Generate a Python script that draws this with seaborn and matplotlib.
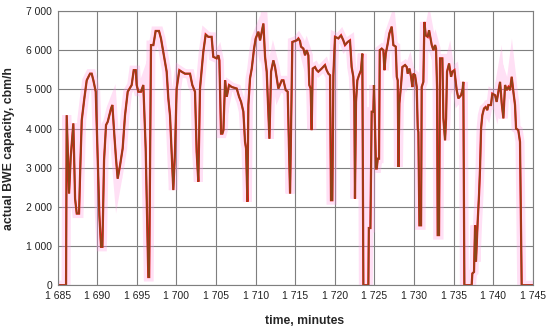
import matplotlib
matplotlib.use("Agg")
import matplotlib.pyplot as plt
import matplotlib.ticker as mticker
import seaborn as sns
import numpy as np
import pandas as pd

# time (minutes) and actual BWE capacity (cbm/h)
minutes = [
    1685.0, 1686.05, 1686.13, 1686.43, 1686.64, 1686.97, 1687.19, 1687.40, 1687.69, 1687.82,
    1688.03, 1688.36, 1688.66, 1689.08, 1689.29, 1689.50, 1689.80, 1690.26, 1690.47, 1690.64,
    1690.85, 1691.10, 1691.31, 1691.73, 1691.90, 1692.15, 1692.36, 1692.57, 1692.87, 1693.20,
    1693.50, 1693.84, 1694.34, 1694.60, 1694.85,
    1694.97, 1695.18, 1695.52, 1695.81, 1696.11, 1696.44, 1696.55, 1696.78, 1697.08, 1697.37,
    1697.79, 1698.04, 1698.47, 1698.76, 1698.97, 1699.18, 1699.39, 1699.60, 1699.81, 1700.02,
    1700.36, 1700.65, 1701.07, 1701.71, 1702.00, 1702.34, 1702.55, 1702.76, 1702.97, 1703.39,
    1703.69, 1704.02, 1704.44, 1704.65, 1705.08,
    1705.29, 1705.42, 1705.63, 1705.80, 1705.93, 1706.14, 1706.35, 1706.64, 1706.98, 1707.61,
    1707.91, 1708.16, 1708.45, 1708.66, 1708.79, 1708.96, 1709.08, 1709.29, 1709.51, 1709.80,
    1710.01, 1710.35, 1710.56, 1710.98, 1711.19, 1711.40, 1711.74, 1711.95, 1712.24, 1712.45,
    1712.87, 1713.30, 1713.51, 1713.80, 1714.05, 1714.35, 1714.64, 1715.19,
    1715.40, 1715.61, 1715.73, 1716.03, 1716.24, 1716.45, 1716.66, 1716.78, 1716.95, 1717.08,
    1717.21, 1717.50, 1717.71, 1717.92, 1718.34, 1718.76, 1718.97, 1719.19, 1719.40, 1719.52,
    1719.69, 1719.82, 1720.03, 1720.45, 1720.79, 1721.08, 1721.29, 1721.63, 1721.92, 1722.13,
    1722.34, 1722.47, 1722.55, 1722.68, 1722.85, 1723.06, 1723.31, 1723.48, 1723.61, 1724.24,
    1724.30, 1724.50, 1724.66, 1724.87, 1724.95, 1725.21,
    1725.30, 1725.43, 1725.59, 1725.68, 1725.93, 1726.14, 1726.27, 1726.44, 1726.69, 1726.90,
    1727.19, 1727.40, 1727.70, 1727.83, 1727.95, 1728.04, 1728.16, 1728.37, 1728.54, 1728.88,
    1729.09, 1729.21, 1729.43, 1729.64, 1729.80, 1729.93, 1730.14, 1730.35, 1730.48, 1730.56,
    1730.69, 1730.90, 1730.98, 1731.19, 1731.32, 1731.49, 1731.74, 1731.91, 1732.25, 1732.46,
    1732.67, 1732.79, 1732.92, 1733.00, 1733.17, 1733.30, 1733.59, 1733.72, 1733.93, 1734.06,
    1734.18, 1734.44, 1734.69, 1734.86, 1735.11, 1735.40,
    1735.61, 1735.95, 1736.16, 1736.24, 1736.37, 1737.29, 1737.38, 1737.59, 1737.72, 1737.84,
    1738.05, 1738.22, 1738.35, 1738.48, 1738.64, 1738.85, 1739.06, 1739.27, 1739.40, 1739.73,
    1739.90, 1740.25, 1740.45, 1740.67, 1740.88, 1741.09, 1741.30, 1741.51, 1741.72, 1741.93,
    1742.14, 1742.35, 1742.56, 1742.77, 1742.90, 1743.18, 1743.40, 1743.61, 1745.0,
]
capacity = [
    0, 0, 4340, 2340, 3280, 4130, 2210, 1830, 1830, 2810,
    4210, 4770, 5230, 5400, 5400, 5230, 4940, 1790, 980, 980,
    3190, 4090, 4170, 4510, 4600, 3830, 3230, 2720, 3060, 3490,
    4340, 4940, 5110, 5490, 5490,
    5110, 4940, 4940, 5110, 3490, 210, 210, 6130, 6130, 6490,
    6490, 6300, 5790, 5450, 4770, 4340, 3400, 2430, 3400, 5020,
    5490, 5450, 5400, 5400, 5110, 4940, 3400, 2640, 5020, 5960,
    6400, 6340, 6340, 5830, 5790,
    5870, 5740, 3870, 3870, 3960, 5230, 4810, 5110, 5060, 5020,
    4810, 4680, 4430, 3660, 3490, 2130, 4600, 5280, 5530, 6040,
    6300, 6470, 6250, 6680, 5830, 5450, 3740, 5450, 5740, 5570,
    5020, 5230, 5230, 4980, 4940, 2340, 6210, 6250,
    6300, 6230, 6090, 6040, 5870, 6000, 5870, 5110, 5020, 3960,
    5530, 5570, 5490, 5450, 5530, 5620, 5490, 5400, 5360, 2170,
    2170, 5360, 6340, 6300, 6380, 6250, 6130, 6210, 6250, 5570,
    5320, 4680, 2210, 4680, 5230, 5360, 5490, 5910, 0, 0,
    1460, 1460, 4430, 4430, 5110, 2980,
    2980, 3230, 3230, 6000, 6040, 6000, 5490, 5910, 6170, 6430,
    6600, 6130, 6090, 5320, 5230, 3020, 4640, 5110, 5570, 5620,
    5570, 5400, 5530, 5320, 5060, 5400, 5360, 5060, 4000, 3910,
    1530, 1530, 5060, 5190, 6720, 6380, 6340, 6510, 6130, 6000,
    6130, 6040, 5060, 1280, 1280, 5790, 5790, 4260, 3700, 4260,
    5450, 5660, 5320, 5450, 5490, 4980,
    4770, 4850, 5020, 5190, 0, 0, 300, 340, 1530, 600,
    1620, 2300, 2980, 4000, 4340, 4510, 4550, 4470, 4600, 4600,
    4890, 4850, 4680, 4940, 5190, 4640, 4260, 5110, 4980, 5060,
    4980, 5320, 4940, 4600, 4000, 3960, 3660, 0, 0,
]

x_ticks = list(range(1685, 1746, 5))
y_ticks = list(range(0, 7001, 1000))

df = pd.DataFrame({"time": minutes, "capacity": capacity})

sns.set_style("white")
plt.rcParams["font.family"] = ["Liberation Sans", "DejaVu Sans"]

fig, ax = plt.subplots(figsize=(5.5, 3.29), dpi=100)
fig.subplots_adjust(left=0.105, right=0.9685, bottom=0.133, top=0.9666)

# pink envelope, red line and brown line on top
sns.lineplot(data=df, x="time", y="capacity", ax=ax, sort=False, estimator=None,
             color="#ff99e0", alpha=0.3, linewidth=6.5, solid_joinstyle="miter")
sns.lineplot(data=df, x="time", y="capacity", ax=ax, sort=False, estimator=None,
             color="#e81818", linewidth=1.6, solid_joinstyle="miter")
sns.lineplot(data=df, x="time", y="capacity", ax=ax, sort=False, estimator=None,
             color="#8e4418", linewidth=1.1, solid_joinstyle="miter")

ax.set_xlim(1685, 1745)
ax.set_ylim(0, 7000)
ax.set_xticks(x_ticks)
ax.set_yticks(y_ticks)
fmt = mticker.FuncFormatter(lambda v, p: f"{int(v):,}".replace(",", " "))
ax.xaxis.set_major_formatter(fmt)
ax.yaxis.set_major_formatter(fmt)
ax.tick_params(axis="both", length=0, labelsize=7.5, colors="#222222", pad=4)

ax.grid(True, color="#7f7f7f", linewidth=0.8)
ax.set_axisbelow(True)
for s in ax.spines.values():
    s.set_color("#7f7f7f")
    s.set_linewidth(0.8)

ax.set_xlabel("time, minutes", fontsize=8.8, fontweight="bold", labelpad=6)
ax.set_ylabel("actual BWE capacity, cbm/h", fontsize=8.8, fontweight="bold", labelpad=8)
ax.xaxis.set_label_coords(0.52, -0.11)

fig.savefig("out.png", dpi=100)
